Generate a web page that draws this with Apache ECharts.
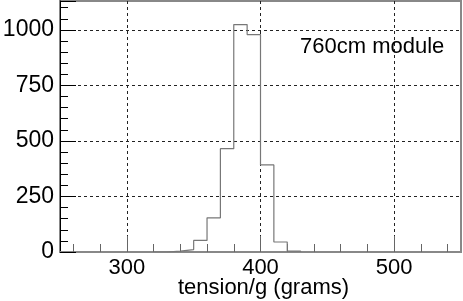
<!DOCTYPE html>
<html>
<head>
<meta charset="utf-8">
<script src="https://cdn.jsdelivr.net/npm/echarts@6/dist/echarts.min.js"></script>
<style>
  html, body { margin: 0; padding: 0; background: #fff; }
  #main { width: 463px; height: 301px; }
</style>
</head>
<body>
<div id="main"></div>
<script>
// histogram: lower bin edges (width 10 g) and entries per bin
var binLow = [320, 330, 340, 350, 360, 370, 380, 390, 400, 410, 420];
var counts = [0, 4, 11, 52, 154, 465, 1024, 979, 392, 45, 4];
var binWidth = 10;
var majorTicksX = [300, 400, 500];
var minorTicksX = [260, 280, 320, 340, 360, 380, 420, 440, 460, 480, 520, 540];

var font = "'Liberation Sans', Arial, Helvetica, sans-serif";

// step outline through bin edges
var histData = [];
for (var i = 0; i < binLow.length; i++) {
    histData.push([binLow[i], counts[i]]);
}
histData.push([binLow[binLow.length - 1] + binWidth, 0]);

var chart = echarts.init(document.getElementById('main'));
chart.setOption({
    animation: false,
    backgroundColor: '#fff',
    title: {
        text: '760cm module',
        left: 295,
        top: 31,
        textStyle: { fontFamily: font, fontSize: 22, fontWeight: 'normal', color: '#000' }
    },
    grid: {
        left: 60, right: 2, top: 1, bottom: 49,
        containLabel: false,
        outerBoundsMode: 'none',
        show: true, borderColor: '#888', borderWidth: 2
    },
    xAxis: [{
        type: 'value',
        min: 250,
        max: 550,
        position: 'bottom',
        name: 'tension/g (grams)',
        nameLocation: 'middle',
        nameGap: 25,
        nameMoveOverlap: false,
        nameTextStyle: { fontFamily: font, fontSize: 22, color: '#000', verticalAlign: 'top', padding: [0, 0, 0, 6] },
        axisLine: { lineStyle: { color: '#888', width: 2 } },
        axisTick: { inside: true, length: 16, customValues: majorTicksX, lineStyle: { color: '#666' } },
        axisLabel: { customValues: majorTicksX, fontFamily: font, fontSize: 22, color: '#000', margin: 5 },
        splitLine: { show: true, lineStyle: { color: '#222', type: [3, 3], width: 1 } }
    }, {
        type: 'value',
        min: 250,
        max: 550,
        position: 'bottom',
        axisLine: { show: false },
        axisTick: { show: true, inside: true, length: 8, customValues: minorTicksX, lineStyle: { color: '#666' } },
        axisLabel: { show: false },
        splitLine: { show: false }
    }],
    yAxis: {
        type: 'value',
        min: 0,
        max: 1130,
        interval: 250,
        axisLine: { show: true, lineStyle: { color: '#000', width: 1 } },
        axisTick: { inside: true, length: 16, lineStyle: { color: '#000' } },
        minorTick: { show: true, splitNumber: 5, length: 8, lineStyle: { color: '#000' } },
        axisLabel: { fontFamily: font, fontSize: 23, color: '#000', margin: 6, showMaxLabel: false,
            formatter: function (v) { return String(v); } },
        splitLine: { show: true, showMinLine: false, showMaxLine: false,
            lineStyle: { color: '#222', type: [3, 3], width: 1 } }
    },
    series: [{
        type: 'line',
        xAxisIndex: 0,
        step: 'end',
        data: histData,
        symbol: 'none',
        lineStyle: { color: '#777', width: 1.2 }
    }]
});
</script>
</body>
</html>
